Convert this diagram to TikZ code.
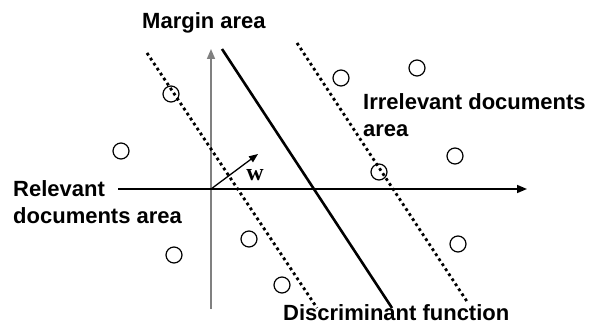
\documentclass[tikz,border=0pt]{standalone}
\usepackage{fontspec}
\setmainfont{Liberation Sans}
\newfontfamily\wfont{Liberation Serif}
\usetikzlibrary{arrows.meta}
\begin{document}
\begin{tikzpicture}[x=1pt,y=-1pt,
  lbl/.style={font=\fontsize{22}{27}\selectfont\bfseries, anchor=base west, inner sep=0pt, align=left},
  doc/.style={circle, draw, line width=1.2pt, minimum size=16pt, inner sep=0pt},
  axis/.style={line width=1.5pt, -{Triangle[length=10pt,width=8pt]}},
  margin/.style={line width=2.8pt, dash pattern=on 2.8pt off 3.2pt},
  disc/.style={line width=2.6pt}]
\useasboundingbox (0,0) rectangle (597,326);
% axes
\coordinate (O) at (211,189);
\coordinate (ytop) at (211,49);
\coordinate (ybot) at (211,309);
\coordinate (xleft) at (118,189);
\coordinate (xright) at (527,189);
\draw[axis, draw=gray, fill=black] (ybot) -- (ytop);
\draw[axis] (xleft) -- (xright);
% margin lines and discriminant
\coordinate (m1a) at (147,53); \coordinate (m1b) at (317,308);
\coordinate (da) at (222,49);  \coordinate (db) at (392,308);
\coordinate (m2a) at (297,43); \coordinate (m2b) at (468,303);
\draw[margin] (m1a) -- (m1b);
\draw[disc] (da) -- (db);
\draw[margin] (m2a) -- (m2b);
% w vector
\coordinate (wtip) at (258,154);
\draw[line width=1.3pt, -{Triangle[length=9pt,width=7pt]}] (O) -- (wtip);
\node[font=\wfont\fontsize{24}{24}\selectfont\bfseries, inner sep=0pt] (w) at (255,175) {w};
% documents
\node[doc] (c1) at (171,94) {};
\node[doc] (c2) at (121,151) {};
\node[doc] (c3) at (341,78) {};
\node[doc] (c4) at (417,68) {};
\node[doc] (c5) at (455,156) {};
\node[doc] (c6) at (379,172) {};
\node[doc] (c7) at (458,244) {};
\node[doc] (c8) at (174,255) {};
\node[doc] (c9) at (249,239) {};
\node[doc] (c10) at (282,285) {};
% labels
\node[lbl] (margin) at (142,29) {Margin area};
\node[lbl] (irr) at (363,137) {Irrelevant documents\\area};
\node[lbl] (rel) at (13,223) {Relevant\\documents area};
\node[lbl] (dfun) at (283,320) {Discriminant function};
\end{tikzpicture}
\end{document}
